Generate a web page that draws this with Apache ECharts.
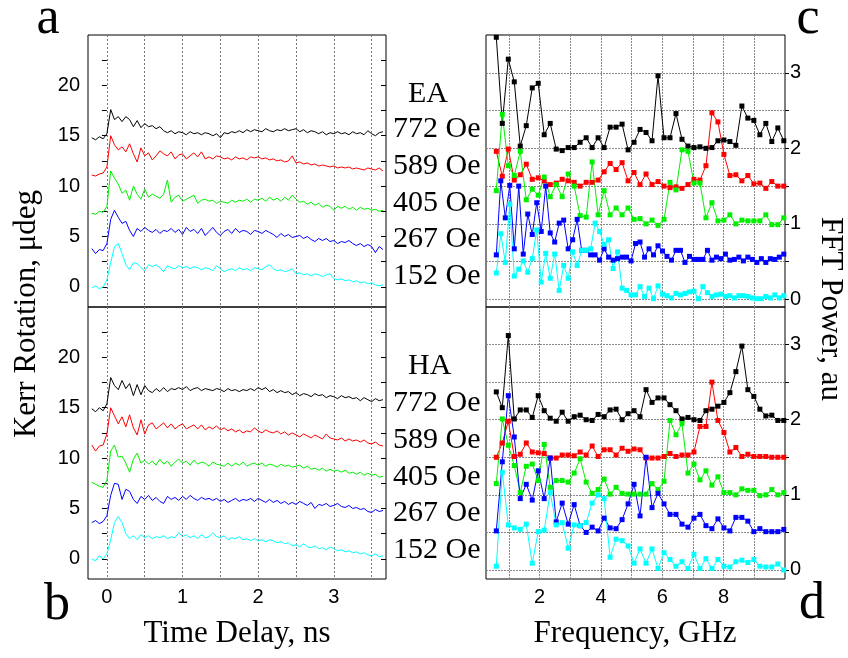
<!DOCTYPE html>
<html>
<head>
<meta charset="utf-8">
<title>Kerr rotation and FFT power</title>
<script src="https://cdn.jsdelivr.net/npm/echarts@6.0.0/dist/echarts.min.js"></script>
<style>
  html, body { margin: 0; padding: 0; background: #fff; }
  #chart { width: 848px; height: 658px; }
</style>
</head>
<body>
<div id="chart"></div>
<script>
// time delay, ns (left panels)
const times = [-0.2, -0.15, -0.1, -0.05, 0, 0.05, 0.1, 0.15, 0.2, 0.25,
  0.3, 0.35, 0.4, 0.45, 0.5, 0.55, 0.6, 0.65, 0.7, 0.75,
  0.8, 0.85, 0.9, 0.95, 1, 1.05, 1.1, 1.15, 1.2, 1.25,
  1.3, 1.35, 1.4, 1.45, 1.5, 1.55, 1.6, 1.65, 1.7, 1.75,
  1.8, 1.85, 1.9, 1.95, 2, 2.05, 2.1, 2.15, 2.2, 2.25,
  2.3, 2.35, 2.4, 2.45, 2.5, 2.55, 2.6, 2.65, 2.7, 2.75,
  2.8, 2.85, 2.9, 2.95, 3, 3.05, 3.1, 3.15, 3.2, 3.25,
  3.3, 3.35, 3.4, 3.45, 3.5, 3.55, 3.6, 3.65]

const fields = ['772 Oe', '589 Oe', '405 Oe', '267 Oe', '152 Oe']
const colors = ['#000000', '#ff0000', '#00f000', '#0000ff', '#00ffff']

// a: easy axis, Kerr rotation (udeg, offset)
const ea772 = [14.8, 14.6, 14.9, 14.7, 15.2, 17.6, 16.6, 16.9, 16.4, 16.9,
  16.6, 15.9, 16.5, 15.8, 16.2, 15.9, 16.0, 15.7, 15.9, 15.5,
  15.3, 15.5, 15.2, 15.4, 15.3, 15.1, 15.4, 15.2, 15.3, 15.1,
  15.3, 15.2, 15.0, 15.2, 14.8, 15.3, 15.2, 15.4, 15.3, 15.5,
  15.3, 15.6, 15.4, 15.6, 15.5, 15.4, 15.7, 15.5, 15.4, 15.6,
  15.5, 15.7, 15.5, 15.6, 15.7, 15.4, 15.6, 15.3, 15.5, 15.4,
  15.2, 15.4, 15.1, 15.3, 15.2, 15.4, 15.2, 15.3, 15.1, 15.4,
  15.2, 15.3, 15.1, 15.5, 15.2, 15.0, 15.3, 15.4]
const ea589 = [11.1, 11.0, 11.2, 11.3, 11.9, 15.0, 14.1, 13.6, 13.9, 13.4,
  14.2, 13.2, 12.4, 13.8, 13.0, 13.3, 12.6, 13.0, 13.5, 13.2,
  13.0, 13.4, 12.7, 13.1, 13.2, 12.7, 13.0, 13.3, 12.9, 13.4,
  12.7, 12.9, 12.7, 13.0, 12.9, 12.7, 12.8, 12.6, 12.9, 12.7,
  12.8, 12.6, 12.9, 12.8, 12.9, 12.7, 12.8, 12.6, 12.7, 12.5,
  12.6, 12.4, 12.5, 13.0, 12.3, 12.4, 12.2, 12.3, 12.1, 12.2,
  12.0, 12.1, 12.0, 11.9, 12.0, 11.8, 11.9, 11.8, 11.9, 11.7,
  11.8, 11.7, 11.6, 11.8, 11.7, 11.6, 11.8, 11.5]
const ea405 = [7.3, 7.2, 7.5, 7.4, 8.0, 11.5, 10.8, 10.2, 9.3, 9.6,
  8.6, 10.0, 9.2, 8.7, 9.7, 8.9, 9.2, 9.0, 8.8, 9.2,
  10.6, 8.4, 8.9, 9.1, 8.5, 8.7, 8.9, 9.1, 8.3, 8.6,
  8.7, 8.5, 8.6, 8.3, 8.5, 8.4, 8.3, 8.6, 8.4, 8.6,
  8.5, 8.7, 8.4, 8.7, 8.6, 8.8, 8.5, 8.9, 8.6, 8.8,
  8.5, 8.9, 8.6, 9.1, 8.7, 8.4, 8.5, 8.2, 8.4, 8.1,
  8.3, 7.9, 8.1, 8.0, 7.6, 8.0, 7.8, 8.0, 7.7, 7.9,
  7.6, 7.9, 7.7, 7.8, 7.6, 7.7, 7.5, 7.6]
const ea267 = [3.8, 3.3, 3.7, 3.6, 4.3, 6.7, 7.6, 6.9, 6.3, 6.5,
  5.6, 5.0, 5.8, 5.5, 5.9, 5.6, 5.4, 5.7, 5.3, 5.6,
  5.5, 5.8, 5.4, 5.7, 5.2, 5.9, 5.5, 5.7, 5.3, 5.8,
  5.1, 5.5, 5.9, 5.4, 5.1, 5.5, 5.7, 5.3, 5.8, 5.4,
  5.6, 5.5, 5.2, 5.6, 5.5, 5.3, 5.6, 5.4, 5.2, 4.9,
  5.3, 5.0, 5.2, 4.9, 5.0, 5.1, 4.8, 5.0, 4.7, 4.5,
  4.8, 4.6, 4.8, 4.5, 4.6, 4.3, 4.5, 4.4, 4.6, 4.3,
  4.1, 4.3, 4.0, 4.2, 4.0, 3.4, 4.0, 3.7]
const ea152 = [-0.1, 0.1, -0.2, 0.0, 0.7, 2.4, 4.0, 4.3, 3.3, 2.2,
  1.7, 2.4, 2.3, 1.9, 1.6, 2.2, 2.0, 2.2, 1.9, 1.5,
  2.1, 1.9, 1.8, 2.1, 1.9, 2.0, 1.8, 2.0, 1.9, 1.7,
  1.9, 1.8, 1.6, 2.1, 1.8, 1.5, 1.7, 1.8, 1.6, 1.9,
  1.7, 1.8, 1.6, 1.9, 1.8, 1.7, 2.0, 2.2, 1.8, 1.6,
  1.7, 1.5, 1.6, 1.8, 1.3, 1.4, 1.2, 1.3, 1.1, 1.3,
  1.2, 1.0, 1.2, 1.3, 0.8, 0.7, 0.8, 0.6, 0.7, 0.5,
  0.6, 0.4, 0.5, 0.3, 0.4, 0.2, 0.1, 0.2]

// b: hard axis
const ha772 = [14.9, 14.6, 15.0, 14.7, 15.4, 18.0, 17.2, 16.8, 17.7, 16.9,
  17.4, 16.2, 17.3, 16.3, 17.2, 16.7, 16.5, 16.9, 16.6, 17.0,
  16.6, 16.9, 16.8, 17.0, 16.8, 17.1, 16.7, 16.9, 17.0, 16.7,
  16.9, 16.8, 16.7, 16.9, 16.8, 16.6, 16.9, 16.7, 16.8, 16.6,
  16.8, 16.7, 16.9, 16.7, 17.0, 16.8, 17.0, 16.6, 16.8, 16.5,
  16.7, 16.5, 16.6, 16.3, 16.5, 16.2, 16.4, 16.3, 16.1, 16.4,
  16.2, 16.3, 16.0, 16.2, 16.1, 15.9, 16.2, 16.0, 16.1, 15.9,
  16.0, 15.7, 16.0, 15.8, 15.6, 15.9, 15.7, 15.8]
const ha589 = [11.3, 10.7, 11.2, 11.3, 12.4, 15.0, 14.2, 13.4, 14.1, 13.1,
  14.3, 13.0, 12.3, 13.8, 12.4, 13.3, 13.5, 12.9, 13.2, 13.5,
  13.0, 13.4, 12.9, 13.2, 13.4, 12.9, 13.1, 13.3, 12.9, 13.3,
  12.8, 13.1, 12.9, 13.2, 12.8, 13.0, 12.7, 12.9, 12.6, 12.8,
  12.5, 12.7, 12.6, 13.0, 12.7, 12.5, 12.8, 12.6, 12.5, 12.7,
  12.4, 12.6, 12.3, 12.5, 12.3, 12.1, 12.4, 12.2, 12.0, 12.3,
  12.1, 11.9, 12.4, 12.0, 11.9, 11.8, 12.0, 11.7, 11.9, 11.7,
  11.8, 11.6, 11.8, 11.5, 11.4, 11.6, 11.3, 11.2]
const ha405 = [7.6, 7.4, 7.2, 7.1, 7.8, 10.7, 11.3, 10.1, 10.2, 9.5,
  8.6, 9.9, 10.5, 9.5, 9.8, 9.4, 9.7, 9.3, 9.9, 9.4,
  9.7, 9.2, 9.6, 9.9, 9.5, 9.7, 9.3, 9.8, 9.4, 9.6,
  9.5, 9.2, 9.6, 9.4, 9.3, 9.2, 9.5, 9.2, 9.5, 9.3,
  9.6, 9.2, 9.4, 9.5, 9.3, 9.5, 9.2, 9.4, 9.3, 9.1,
  9.4, 9.2, 9.3, 9.1, 9.2, 9.3, 9.0, 9.2, 8.9, 9.0,
  8.8, 9.0, 8.7, 8.9, 8.7, 8.8, 8.6, 8.8, 8.5, 8.6,
  8.4, 8.6, 8.3, 8.5, 8.3, 8.4, 8.1, 8.2]
const ha267 = [3.6, 3.8, 3.5, 3.7, 4.3, 6.3, 7.5, 7.4, 5.9, 6.9,
  6.7, 5.9, 5.5, 6.2, 5.9, 6.3, 5.8, 6.1, 5.7, 5.5,
  6.2, 5.9, 6.1, 5.8, 6.2, 5.9, 6.3, 6.0, 5.8, 6.1,
  5.9, 6.0, 5.8, 6.0, 5.7, 5.9, 5.6, 5.8, 6.0, 5.7,
  5.9, 5.8, 6.0, 5.7, 6.0, 5.8, 5.6, 5.9, 5.6, 5.8,
  5.5, 5.7, 5.4, 5.6, 5.4, 5.7, 5.5, 5.3, 5.6, 5.0,
  5.4, 5.3, 5.5, 5.2, 5.3, 5.5, 5.2, 5.1, 5.3, 5.0,
  5.1, 4.9, 5.0, 4.7, 4.6, 4.9, 4.7, 4.8]
const ha152 = [0.0, -0.2, 0.3, 0.0, 0.5, 1.9, 3.6, 4.2, 3.6, 2.5,
  2.0, 2.3, 1.9, 2.4, 2.1, 2.3, 2.0, 2.2, 2.1, 2.3,
  2.0, 2.2, 2.1, 2.6, 2.2, 2.4, 2.1, 2.3, 2.0, 2.4,
  2.1, 2.2, 2.6, 2.2, 2.1, 2.3, 1.9, 2.1, 2.0, 2.2,
  1.9, 2.0, 1.8, 2.0, 1.8, 1.9, 1.7, 1.9, 1.8, 1.6,
  1.7, 1.5, 1.6, 1.3, 1.4, 1.2, 1.5, 1.2, 1.1, 1.3,
  1.0, 1.1, 0.9, 1.2, 1.0, 0.8, 0.9, 0.7, 0.8, 0.6,
  0.7, 0.5, 0.6, 0.4, 0.3, 0.5, 0.2, 0.3]

// FFT frequencies, GHz (two record lengths)
const freqA = [0.586, 0.781, 0.977, 1.172, 1.367, 1.563, 1.758, 1.953, 2.148, 2.344,
  2.539, 2.734, 2.930, 3.125, 3.320, 3.516, 3.711, 3.906, 4.102, 4.297,
  4.492, 4.688, 4.883, 5.078, 5.273, 5.469, 5.664, 5.859, 6.055, 6.250,
  6.445, 6.641, 6.836, 7.031, 7.227, 7.422, 7.617, 7.813, 8.008, 8.203,
  8.398, 8.594, 8.789, 8.984, 9.180, 9.375, 9.570, 9.766, 9.961]
const freqB = [0.586, 0.732, 0.879, 1.025, 1.172, 1.318, 1.465, 1.611, 1.758, 1.904,
  2.051, 2.197, 2.344, 2.490, 2.637, 2.783, 2.930, 3.076, 3.223, 3.369,
  3.516, 3.662, 3.809, 3.955, 4.102, 4.248, 4.395, 4.541, 4.688, 4.834,
  4.980, 5.127, 5.273, 5.420, 5.566, 5.713, 5.859, 6.006, 6.152, 6.299,
  6.445, 6.592, 6.738, 6.885, 7.031, 7.178, 7.324, 7.471, 7.617, 7.764,
  7.910, 8.057, 8.203, 8.350, 8.496, 8.643, 8.789, 8.936, 9.082, 9.229,
  9.375, 9.521, 9.668, 9.814, 9.961]

// c: FFT power, easy axis (offset)
const fftEa772 = [3.47, 2.33, 3.18, 2.88, 2.03, 2.30, 2.80, 2.86, 2.18, 2.33,
  1.99, 1.97, 2.01, 2.01, 2.08, 2.14, 2.01, 2.14, 2.01, 2.28,
  2.28, 2.32, 1.98, 2.08, 2.25, 2.21, 2.10, 2.96, 2.14, 2.14,
  2.46, 2.12, 2.03, 2.01, 2.02, 2.00, 2.01, 2.10, 2.11, 2.09,
  2.04, 2.56, 2.40, 2.37, 2.18, 2.33, 2.09, 2.27, 2.10]
const fftEa589 = [1.96, 1.63, 1.99, 1.58, 1.65, 1.79, 1.59, 1.61, 1.57, 1.52,
  1.54, 1.59, 1.57, 1.55, 1.50, 1.55, 1.55, 1.58, 1.69, 1.80,
  1.72, 1.81, 1.57, 1.68, 1.52, 1.66, 1.52, 1.56, 1.50, 1.48,
  1.49, 1.47, 1.52, 1.59, 1.58, 1.77, 2.47, 2.35, 1.92, 1.64,
  1.65, 1.57, 1.64, 1.53, 1.54, 1.47, 1.56, 1.50, 1.50]
const fftEa405 = [1.44, 2.45, 1.77, 1.64, 1.96, 1.32, 1.46, 1.38, 1.62, 1.36,
  1.52, 1.36, 1.66, 1.50, 1.11, 1.09, 1.82, 1.12, 1.44, 1.12,
  1.21, 1.12, 1.21, 1.06, 1.07, 1.00, 1.05, 0.98, 1.06, 1.55,
  1.45, 1.98, 1.96, 1.54, 1.54, 1.08, 1.28, 1.04, 1.05, 1.12,
  1.00, 1.05, 1.04, 1.04, 1.04, 1.12, 0.99, 0.99, 1.08]
const fftEa267 = [0.59, 1.57, 1.08, 1.51, 0.67, 1.50, 0.60, 1.13, 0.86, 1.28,
  0.90, 1.50, 0.88, 0.76, 1.01, 1.05, 0.67, 0.79, 1.06, 0.65,
  0.65, 0.59, 0.59, 0.52, 0.67, 0.56, 0.52, 0.54, 0.56, 0.56,
  0.51, 0.74, 0.76, 0.56, 0.67, 0.59, 0.71, 0.64, 0.57, 0.52,
  0.65, 0.65, 0.49, 0.57, 0.53, 0.53, 0.53, 0.65, 0.52, 0.56,
  0.54, 0.60, 0.52, 0.53, 0.56, 0.51, 0.56, 0.53, 0.49, 0.54,
  0.49, 0.54, 0.53, 0.56, 0.60]
const fftEa152 = [0.35, 0.87, 0.49, 1.26, 0.31, 0.40, 0.51, 0.36, 0.54, 0.92,
  0.23, 0.61, 0.28, 0.60, 0.12, 0.45, 0.28, 0.63, 0.45, 0.65,
  0.65, 0.67, 1.01, 0.90, 0.73, 0.79, 0.41, 0.63, 0.15, 0.12,
  0.06, 0.06, 0.17, 0.04, 0.15, 0.01, 0.18, 0.07, 0.05, 0.02,
  0.08, 0.06, 0.08, 0.10, 0.11, 0.01, 0.17, 0.09, 0.04, 0.06,
  0.07, 0.04, 0.05, 0.02, 0.05, 0.05, 0.04, 0.02, 0.01, 0.01,
  0.04, 0.02, 0.06, 0.02, 0.05]

// d: FFT power, hard axis
const fftHa772 = [2.37, 2.16, 3.12, 2.01, 2.13, 2.13, 2.03, 2.32, 2.12, 2.02,
  1.98, 2.10, 1.98, 2.04, 2.06, 2.00, 1.99, 2.07, 2.04, 2.13,
  2.14, 2.00, 2.08, 2.12, 2.04, 2.40, 2.23, 2.29, 2.29, 2.20,
  2.12, 2.01, 2.03, 2.00, 1.99, 2.12, 2.14, 2.18, 2.23, 2.36,
  2.64, 2.98, 2.40, 2.31, 2.14, 2.05, 2.06, 1.99, 1.99]
const fftHa589 = [1.50, 1.69, 1.98, 1.51, 1.54, 1.69, 1.57, 1.56, 1.55, 1.49,
  1.49, 1.53, 1.53, 1.52, 1.57, 1.53, 1.65, 1.51, 1.60, 1.60,
  1.53, 1.62, 1.58, 1.61, 1.60, 1.49, 1.49, 1.49, 1.51, 1.55,
  1.51, 1.53, 1.53, 1.57, 1.91, 1.91, 2.50, 1.99, 1.83, 1.57,
  1.63, 1.51, 1.54, 1.51, 1.51, 1.51, 1.50, 1.50, 1.50]
const fftHa405 = [1.15, 2.01, 1.66, 1.39, 1.03, 1.38, 1.41, 1.19, 1.67, 1.10,
  1.19, 1.19, 1.17, 1.29, 1.48, 1.17, 1.02, 1.07, 1.21, 1.01,
  1.10, 1.02, 1.01, 1.01, 1.01, 1.01, 1.15, 1.07, 1.18, 1.99,
  1.80, 1.95, 1.29, 1.41, 1.20, 1.32, 1.13, 1.24, 1.03, 1.03,
  1.00, 1.08, 1.06, 1.06, 0.99, 1.00, 1.07, 1.00, 1.03]
const fftHa267 = [0.52, 1.44, 2.32, 1.77, 0.95, 1.14, 0.93, 1.32, 0.95, 1.49,
  0.64, 0.89, 0.61, 0.87, 0.59, 0.50, 0.57, 0.52, 0.69, 0.56,
  0.55, 0.67, 0.88, 1.14, 0.72, 1.50, 0.83, 1.02, 0.88, 0.74,
  0.74, 0.61, 0.57, 0.69, 0.74, 0.59, 0.55, 0.68, 0.56, 0.52,
  0.70, 0.70, 0.65, 0.51, 0.55, 0.51, 0.51, 0.51, 0.54]
const fftHa152 = [0.05, 1.30, 0.60, 0.56, 0.54, 0.61, 0.09, 0.51, 0.53, 1.03,
  0.60, 0.63, 0.29, 0.60, 0.59, 0.63, 0.89, 1.00, 0.95, 0.17,
  0.41, 0.39, 0.32, 0.09, 0.28, 0.09, 0.28, 0.02, 0.23, 0.14,
  0.05, 0.11, 0.02, 0.21, 0.02, 0.15, 0.02, 0.14, 0.05, 0.04,
  0.11, 0.13, 0.10, 0.14, 0.05, 0.04, 0.04, 0.08, 0.00]

// tick values
const timeGrid = [0, 0.5, 1, 1.5, 2, 2.5, 3, 3.5]
const timeLabels = [0, 1, 2, 3]
const kerrTicks = [0, 2.5, 5, 7.5, 10, 12.5, 15, 17.5, 20, 22.5]
const kerrLabels = [0, 5, 10, 15, 20]
const freqGrid = [1, 2, 3, 4, 5, 6, 7, 8, 9]
const freqLabels = [2, 4, 6, 8]
const powerGrid = [0, 0.5, 1, 1.5, 2, 2.5, 3]
const powerLabels = [0, 1, 2, 3]

const chart = echarts.init(document.getElementById('chart'), null, { renderer: 'canvas' })

const serif = '"Liberation Serif", "Times New Roman", serif'
const sans = '"Liberation Sans", Arial, sans-serif'
const tickFont = { fontFamily: sans, fontSize: 20, color: '#000' }

function gridBox (left, top, width) {
  return {
    left: left, top: top, width: width, height: 272,
    show: true, borderColor: '#000', borderWidth: 1,
    containLabel: false, outerBoundsMode: 'none'
  }
}

// time axes (left column)
function timeAxis (gridIndex, withLabels) {
  return {
    type: 'value', gridIndex: gridIndex, min: -0.25, max: 3.69,
    axisLine: { show: false },
    axisTick: { show: false, customValues: timeGrid },
    axisLabel: Object.assign({ show: withLabels, margin: 8, customValues: timeLabels }, tickFont),
    splitLine: { show: true, lineStyle: { color: '#777', type: [2, 2], width: 1 } }
  }
}
// frequency axes (right column)
function freqAxis (gridIndex, withLabels) {
  return {
    type: 'value', gridIndex: gridIndex, min: 0.25, max: 10,
    axisLine: { show: false },
    axisTick: { show: false, customValues: freqGrid },
    axisLabel: Object.assign({ show: withLabels, margin: 8, customValues: freqLabels }, tickFont),
    splitLine: { show: true, lineStyle: { color: '#888', type: [2, 1], width: 1 } }
  }
}
function kerrAxis (gridIndex, side) {
  const left = side === 'left'
  return {
    type: 'value', gridIndex: gridIndex, position: side, min: -2, max: 25,
    axisLine: { show: false },
    axisTick: { show: true, inside: !left, length: 5, customValues: kerrTicks, lineStyle: { color: '#000' } },
    axisLabel: Object.assign({ show: left, margin: 8, customValues: kerrLabels }, tickFont),
    splitLine: { show: false }
  }
}
function powerAxis (gridIndex, min) {
  return {
    type: 'value', gridIndex: gridIndex, position: 'right', min: min, max: 3.5,
    axisLine: { show: false },
    axisTick: { show: true, length: 4, customValues: powerGrid, lineStyle: { color: '#000' } },
    axisLabel: Object.assign({ margin: 5, customValues: powerLabels }, tickFont),
    splitLine: { show: true, lineStyle: { color: '#888', type: [2, 1], width: 1 } }
  }
}

function trace (values, color, xi, yi) {
  return {
    type: 'line', xAxisIndex: xi, yAxisIndex: yi,
    data: times.map((t, i) => [t, values[i]]),
    showSymbol: false, symbol: 'none', silent: true,
    lineStyle: { color: color, width: 1 }
  }
}
function spectrum (freqs, values, color, xi, yi) {
  return {
    type: 'line', xAxisIndex: xi, yAxisIndex: yi,
    data: freqs.map((f, i) => [f, values[i]]),
    symbol: 'rect', symbolSize: 5, silent: true,
    itemStyle: { color: color },
    lineStyle: { color: color, width: 1 }
  }
}

const eaTraces = [ea772, ea589, ea405, ea267, ea152]
const haTraces = [ha772, ha589, ha405, ha267, ha152]
const eaSpectra = [fftEa772, fftEa589, fftEa405, fftEa267, fftEa152]
const haSpectra = [fftHa772, fftHa589, fftHa405, fftHa267, fftHa152]
const eaFreqs = [freqA, freqA, freqA, freqB, freqB]

let series = []
eaTraces.forEach((v, i) => series.push(trace(v, colors[i], 0, 0)))
haTraces.forEach((v, i) => series.push(trace(v, colors[i], 1, 2)))
eaSpectra.forEach((v, i) => series.push(spectrum(eaFreqs[i], v, colors[i], 2, 4)))
haSpectra.forEach((v, i) => series.push(spectrum(freqA, v, colors[i], 3, 5)))

// labels between the two columns
function label (text, x, y, size, align) {
  return {
    type: 'text', x: x, y: y, silent: true,
    style: { text: text, font: size + 'px ' + serif, fill: '#000', align: align || 'left', verticalAlign: 'middle' }
  }
}
let graphics = [
  label('a', 48, 19, 52, 'center'),
  label('b', 57, 605, 52, 'center'),
  label('c', 808, 19, 52, 'center'),
  label('d', 812, 604, 52, 'center'),
  label('EA', 408, 94, 30),
  label('HA', 408, 366, 30),
  label('Time Delay, ns', 237, 634, 31, 'center'),
  label('Frequency, GHz', 635, 634, 31, 'center'),
  {
    type: 'text', x: 27, y: 314, rotation: Math.PI / 2, silent: true,
    style: { text: 'Kerr Rotation, μdeg', font: '31px ' + serif, fill: '#000', align: 'center', verticalAlign: 'middle' }
  },
  {
    type: 'text', x: 830, y: 309, rotation: -Math.PI / 2, silent: true,
    style: { text: 'FFT Power, au', font: '31px ' + serif, fill: '#000', align: 'center', verticalAlign: 'middle' }
  }
]
fields.forEach((f, i) => {
  graphics.push(label(f, 393, 129.5 + i * 36.7, 30))
  graphics.push(label(f, 393, 403.5 + i * 36.7, 30))
})

const option = {
  animation: false,
  backgroundColor: '#fff',
  grid: [gridBox(88, 35, 298), gridBox(88, 307, 298), gridBox(486, 35, 299), gridBox(486, 307, 299)],
  xAxis: [timeAxis(0, false), timeAxis(1, true), freqAxis(2, false), freqAxis(3, true)],
  yAxis: [kerrAxis(0, 'left'), kerrAxis(0, 'right'), kerrAxis(1, 'left'), kerrAxis(1, 'right'),
    powerAxis(2, -0.1), powerAxis(3, -0.12)],
  series: series,
  graphic: graphics
}

chart.setOption(option)
</script>
</body>
</html>
